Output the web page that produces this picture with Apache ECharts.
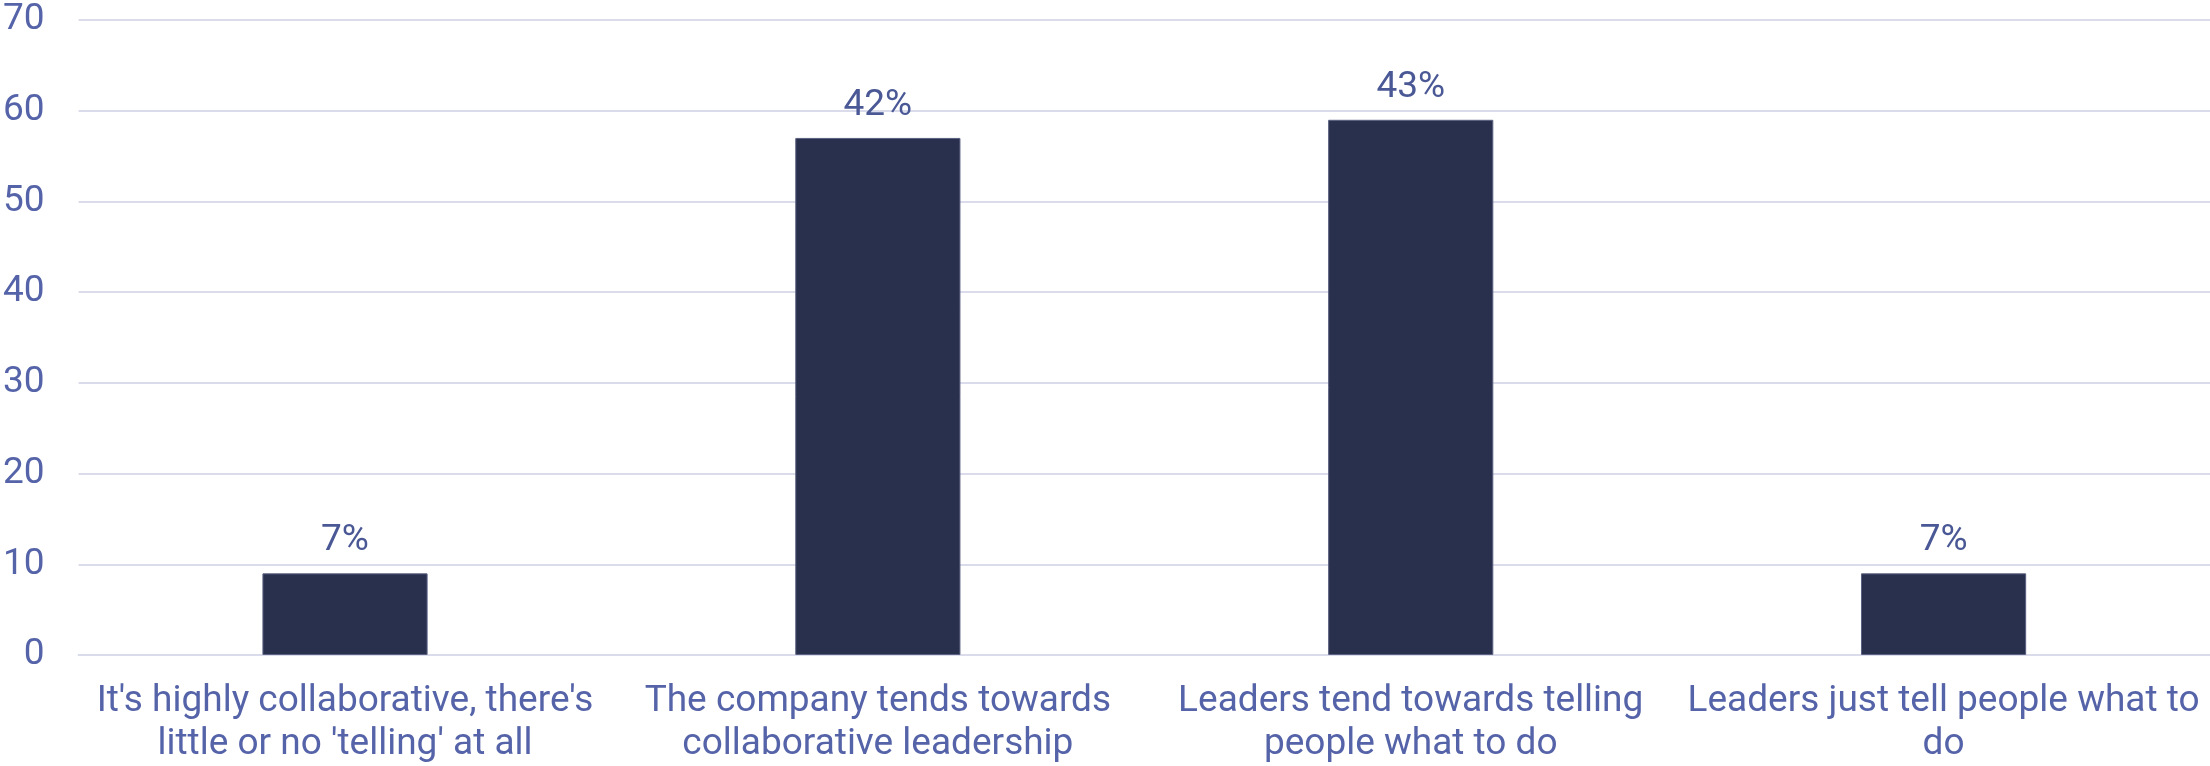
<!DOCTYPE html>
<html><head><meta charset="utf-8">
<script src="https://cdn.jsdelivr.net/npm/echarts@6/dist/echarts.min.js"></script>
<style>html,body{margin:0;padding:0;background:#fff}#c{width:2210px;height:766px}</style>
</head><body><div id="c"></div>
<script>
const categories = [
  "It's highly collaborative, there's\nlittle or no 'telling' at all",
  "The company tends towards\ncollaborative leadership",
  "Leaders tend towards telling\npeople what to do",
  "Leaders just tell people what to\ndo"
];
const values = [9, 57, 59, 9];
const pctLabels = ["7%", "42%", "43%", "7%"];
const yTicks = [0, 10, 20, 30, 40, 50, 60, 70];

const textColor = '#5563a8';
const chart = echarts.init(document.getElementById('c'));
chart.setOption({
  animation: false,
  grid: { left: 75, right: 0, top: 20, bottom: 110, containLabel: false },
  xAxis: {
    type: 'category', data: categories,
    axisLine: { show: true, lineStyle: { color: '#dadcec', width: 2 } },
    axisTick: { show: false },
    axisLabel: { color: textColor, fontFamily: 'Roboto', fontSize: 37, lineHeight: 43, margin: 25, interval: 0 }
  },
  yAxis: {
    type: 'value', min: 0, max: 70, interval: 10,
    axisLine: { show: false }, axisTick: { show: false },
    splitLine: { lineStyle: { color: '#dadcec', width: 2 } },
    axisLabel: { color: textColor, fontFamily: 'Roboto', fontSize: 37, margin: 34,
      formatter: v => yTicks.includes(v) ? String(v) : '' }
  },
  series: [{
    type: 'bar', data: values, barWidth: '31%',
    itemStyle: { color: '#29304e', borderColor: '#5b6180', borderWidth: 1 },
    label: { show: true, position: 'top', distance: 14, color: '#4a5895', fontFamily: 'Roboto', fontSize: 37,
      formatter: p => pctLabels[p.dataIndex] }
  }]
});
</script></body></html>
